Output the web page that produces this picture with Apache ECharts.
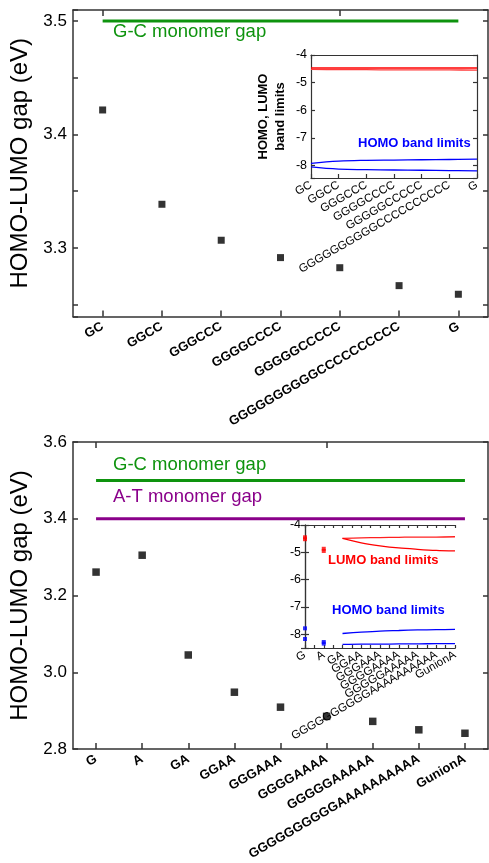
<!DOCTYPE html>
<html><head><meta charset="utf-8">
<script src="https://cdn.jsdelivr.net/npm/echarts@6/dist/echarts.min.js"></script>
<style>html,body{margin:0;padding:0;background:#fff}#c{width:489px;height:863px}</style>
</head><body><div id="c"></div>
<script>
// ---------- data ----------
const topCats = ['GC','GGCC','GGGCCC','GGGGCCCC','GGGGGCCCCC','GGGGGGGGGGCCCCCCCCCC','G'];
const topGap = [3.4216, 3.3385, 3.3068, 3.2915, 3.2826, 3.2668, 3.2592];
const gcMonomerGap = 3.5;
const atMonomerGap = 3.4;

const topLumoUpper = [-4.47,-4.47,-4.47,-4.47,-4.47,-4.47,-4.47];
const topLumoLower = [-4.52,-4.53,-4.53,-4.54,-4.54,-4.54,-4.55];
const topHomoUpper = [-7.92,-7.84,-7.81,-7.80,-7.79,-7.78,-7.77];
const topHomoLower = [-8.05,-8.13,-8.15,-8.16,-8.17,-8.18,-8.19];

const botCats = ['G','A','GA','GGAA','GGGAAA','GGGGAAAA','GGGGGAAAAA','GGGGGGGGGGAAAAAAAAAA','GunionA'];
const botGap = [3.261, 3.305, 3.045, 2.948, 2.909, 2.885, 2.872, 2.850, 2.841];

const botLumoUpper = [null,null,-4.49,-4.47,-4.46,-4.45,-4.44,-4.44,-4.43];
const botLumoLower = [null,null,-4.49,-4.65,-4.76,-4.84,-4.89,-4.93,-4.95];
const botHomoUpper = [null,null,-7.97,-7.92,-7.88,-7.86,-7.84,-7.83,-7.82];
const botHomoLower = [null,null,-8.37,-8.36,-8.36,-8.35,-8.35,-8.34,-8.34];
const monoLumoPts = [['G',-4.45],['G',-4.52],['A',-4.87],['A',-4.95]];
const monoHomoPts = [['G',-7.78],['G',-8.17],['A',-8.28],['A',-8.34]];

const yTopTicks = ['3.3','3.4','3.5'];
// ---------- style ----------
const FONT = 'Liberation Sans, Arial, sans-serif';
const AX = {color:'#333', width:1.5};
const AXI = {color:'#333', width:1.2};
const GREEN = '#0e930e', PURPLE = '#8a008a';

function mainCat(grid, data, pos, labels){
  return {gridIndex:grid, type:'category', data:data, position:pos, boundaryGap:true,
    axisLine:{show:true, lineStyle:AX},
    axisTick:{show:true, inside:true, length:6, alignWithLabel:true, lineStyle:AX},
    axisLabel: labels ? {show:true, interval:0, rotate:30, fontSize:13, fontWeight:'bold', color:'#000', fontFamily:FONT, margin:9} : {show:false},
    splitLine:{show:false}};
}
function insetCat(grid, data, pos, labels, ticks){
  return {gridIndex:grid, type:'category', data:data, position:pos, boundaryGap:false,
    axisLine:{show:true, lineStyle:AXI},
    axisTick:{show:ticks, inside:true, length:4, lineStyle:AXI},
    axisLabel: labels ? {show:true, interval:0, rotate:30, fontSize:11.5, color:'#000', fontFamily:FONT, margin:6} : {show:false},
    splitLine:{show:false}};
}
function tickVal(grid, pos){
  return {gridIndex:grid, type:'value', position:pos, min:0, max:8, interval:0.5,
    axisLine:{show:true, lineStyle:AXI},
    axisTick:{show:true, inside:true, length:3, lineStyle:AXI},
    axisLabel:{show:false}, splitLine:{show:false}};
}
const topFmt = v => { const t = v*10; return Math.abs(t-Math.round(t))<1e-6 && yTopTicks.indexOf(v.toFixed(1))>=0 ? v.toFixed(1) : ''; };
const intFmt = v => Math.abs(v-Math.round(v))<1e-6 ? String(Math.round(v)) : '';

function valAxis(grid, pos, o, labels, fmt, size, name, inset){
  const a = Object.assign({gridIndex:grid, type:'value', position:pos, scale:true,
    axisLine:{show:true, lineStyle: inset?AXI:AX},
    axisTick:{show:true, inside:true, length: inset?4:5, lineStyle: inset?AXI:AX},
    axisLabel: labels ? {show:true, formatter:fmt, fontSize:size, color:'#000', fontFamily:FONT, margin: inset?4:6} : {show:false},
    splitLine:{show:false}}, o);
  if (name) Object.assign(a, name);
  return a;
}
const topY = {min:3.2396, max:3.5097, splitNumber:5};
const botY = {min:2.8, max:3.6, interval:0.2};
const inTopY = {min:-8.45, max:-4, splitNumber:4};
const inBotY = {min:-8.5, max:-4, splitNumber:4};
const bigName = {name:'HOMO-LUMO gap (eV)', nameLocation:'middle', nameGap:39,
  nameTextStyle:{fontSize:24, color:'#000', fontFamily:FONT}};
const insetName = {name:'HOMO, LUMO\nband limits', nameLocation:'middle', nameGap:22,
  nameTextStyle:{fontSize:13, fontWeight:'bold', color:'#000', fontFamily:FONT, lineHeight:17}};

const chart = echarts.init(document.getElementById('c'), null, {renderer:'canvas'});
const line = (xi, yi, data, color, w, smooth) => ({type:'line', xAxisIndex:xi, yAxisIndex:yi, data:data,
  symbol:'none', smooth:smooth||false, lineStyle:{color:color, width:w}, itemStyle:{color:color}, z:3, animation:false, connectNulls:false});

chart.setOption({
  animation:false,
  backgroundColor:'#fff',
  grid:[
    {left:73, top:10, width:415, height:306.5, outerBoundsMode:'none'},
    {left:311, top:55, width:166, height:123, outerBoundsMode:'none'},
    {left:73, top:442, width:415, height:307, outerBoundsMode:'none'},
    {left:305, top:525, width:150, height:123, outerBoundsMode:'none'}
  ],
  xAxis:[
    mainCat(0, topCats, 'bottom', true),
    mainCat(0, topCats, 'top', false),
    insetCat(1, topCats, 'bottom', true, true),
    insetCat(1, topCats, 'top', false, true),
    mainCat(2, botCats, 'bottom', true),
    mainCat(2, botCats, 'top', false),
    insetCat(3, botCats, 'bottom', true, false),
    tickVal(3, 'top'),
    tickVal(3, 'bottom')
  ],
  yAxis:[
    valAxis(0, 'left', topY, true, topFmt, 17, bigName, false),
    valAxis(0, 'right', topY, false, null, 0, null, false),
    valAxis(1, 'left', inTopY, true, intFmt, 12.5, insetName, true),
    valAxis(1, 'right', inTopY, false, null, 0, null, true),
    valAxis(2, 'left', botY, true, v => v.toFixed(1), 17, bigName, false),
    valAxis(2, 'right', botY, false, null, 0, null, false),
    valAxis(3, 'left', inBotY, true, intFmt, 12.5, null, true),
    valAxis(3, 'right', inBotY, false, null, 0, null, true)
  ],
  series:[
    line(0, 0, topCats.map(() => gcMonomerGap), GREEN, 3),
    {type:'scatter', xAxisIndex:0, yAxisIndex:0, data:topGap, symbol:'rect', symbolSize:7, itemStyle:{color:'#000'}, z:4},
    line(2, 2, topLumoUpper, '#ff0000', 1.3, 0.3),
    line(2, 2, topLumoLower, '#ff3b3b', 1.3, 0.3),
    line(2, 2, topHomoUpper, '#0000ff', 1.3, 0.4),
    line(2, 2, topHomoLower, '#0000ff', 1.3, 0.4),
    line(4, 4, botCats.map(() => gcMonomerGap), GREEN, 3),
    line(4, 4, botCats.map(() => atMonomerGap), PURPLE, 3),
    {type:'scatter', xAxisIndex:4, yAxisIndex:4, data:botGap, symbol:'rect', symbolSize:7.5, itemStyle:{color:'#000'}, z:4},
    line(6, 6, botLumoUpper, '#ff2020', 1.3, 0.3),
    line(6, 6, botLumoLower, '#ff0000', 1.3, 0.3),
    line(6, 6, botHomoUpper, '#0000ff', 1.3, 0.3),
    line(6, 6, botHomoLower, '#0000ff', 1.3, 0.3),
    {type:'scatter', xAxisIndex:6, yAxisIndex:6, data:monoLumoPts, symbol:'rect', symbolSize:[4,4], itemStyle:{color:'#ff0000'}, clip:false, z:4},
    {type:'scatter', xAxisIndex:6, yAxisIndex:6, data:monoHomoPts, symbol:'rect', symbolSize:[4,4], itemStyle:{color:'#0000ff'}, clip:false, z:4}
  ],
  graphic:[
    {type:'text', left:113, top:22, style:{text:'G-C monomer gap', fontSize:18.5, fill:GREEN, fontFamily:FONT}},
    {type:'text', left:113, top:455, style:{text:'G-C monomer gap', fontSize:18.5, fill:GREEN, fontFamily:FONT}},
    {type:'text', left:113, top:487, style:{text:'A-T monomer gap', fontSize:18.5, fill:PURPLE, fontFamily:FONT}},
    {type:'text', left:358, top:137, style:{text:'HOMO band limits', fontSize:13, fontWeight:'bold', fill:'#0000ff', fontFamily:FONT}},
    {type:'text', left:328, top:554, style:{text:'LUMO band limits', fontSize:13, fontWeight:'bold', fill:'#ff0000', fontFamily:FONT}},
    {type:'text', left:332, top:604, style:{text:'HOMO band limits', fontSize:13, fontWeight:'bold', fill:'#0000ff', fontFamily:FONT}}
  ]
});
</script></body></html>
